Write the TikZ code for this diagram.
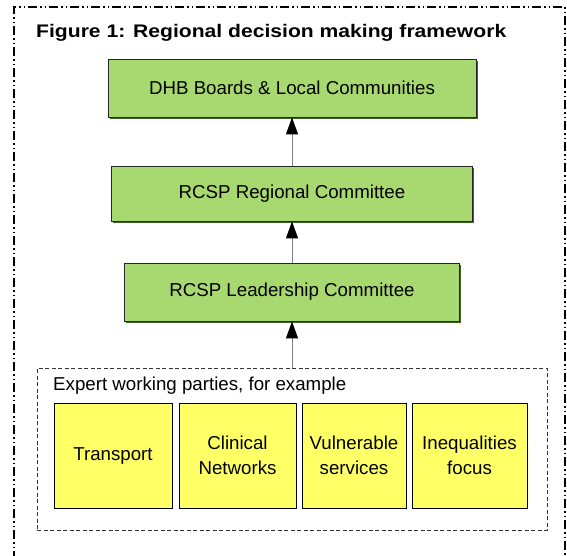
\documentclass[tikz,border=0pt]{standalone}
\usepackage{fontspec}
\setmainfont{Liberation Sans}
\newfontfamily\titlefont[FakeStretch=1.16]{Liberation Sans}
\usetikzlibrary{arrows.meta,shadows}
\definecolor{boxgreen}{RGB}{168,216,112}
\definecolor{boxyellow}{RGB}{255,255,102}
\definecolor{shadowgreen}{RGB}{70,100,40}
\definecolor{linegray}{RGB}{128,128,128}
\tikzset{
  bodyfont/.style={font=\fontsize{18.7}{24.5}\selectfont},
  greenbox/.style={draw=black!85, fill=boxgreen, line width=0.8pt, inner sep=0pt, bodyfont,
    drop shadow={shadow xshift=1.5pt, shadow yshift=-1.5pt, fill=shadowgreen, opacity=1}},
  yellowbox/.style={draw=black, fill=boxyellow, line width=0.8pt, inner sep=0pt, align=center,
    minimum height=105pt, bodyfont},
  arr/.style={draw=linegray, line width=1pt, -{Triangle[width=12pt,length=17pt,color=black]}},
  outerframe/.style={line width=1.5pt, dash pattern=on 9pt off 3pt on 1.5pt off 3pt on 1.5pt off 3pt},
  groupbox/.style={draw=black!80, line width=0.7pt, dash pattern=on 4pt off 2.5pt, inner sep=0pt},
}
\begin{document}
\begin{tikzpicture}[x=1pt,y=-1pt]
\useasboundingbox (0,0) rectangle (567,555);
% outer frame
\draw[outerframe] (14,560) -- (14,7) -- (565,7) -- (565,560);
% title
\node[anchor=base west, inner sep=0pt, font=\titlefont\bfseries\fontsize{18.2}{22}\selectfont] (title) at (36,37.7) {Figure 1: Regional decision making framework};
% green boxes
\node[greenbox, minimum width=368pt, minimum height=58pt] (dhb) at (292,88) {DHB Boards \& Local Communities};
\node[greenbox, minimum width=361pt, minimum height=55pt] (reg) at (292,193.5) {RCSP Regional Committee};
\node[greenbox, minimum width=335pt, minimum height=58pt] (lead) at (292,292) {RCSP Leadership Committee};
% group box
\node[groupbox, minimum width=510pt, minimum height=162pt] (wp) at (292,449) {};
\node[anchor=base west, inner sep=0pt, bodyfont] (wplabel) at (53,390) {Expert working parties, for example};
% yellow boxes
\node[yellowbox, minimum width=118pt] (transport) at (113,455.5) {Transport};
\node[yellowbox, minimum width=117pt] (clinical) at (237.5,455.5) {Clinical\\Networks};
\node[yellowbox, minimum width=104pt] (vulnerable) at (354,455.5) {Vulnerable\\services};
\node[yellowbox, minimum width=115pt] (inequal) at (469.5,455.5) {Inequalities\\focus};
% arrows
\draw[arr] (wp.north) -- (lead.south);
\draw[arr] (lead.north) -- (reg.south);
\draw[arr] (reg.north) -- (dhb.south);
\end{tikzpicture}
\end{document}
